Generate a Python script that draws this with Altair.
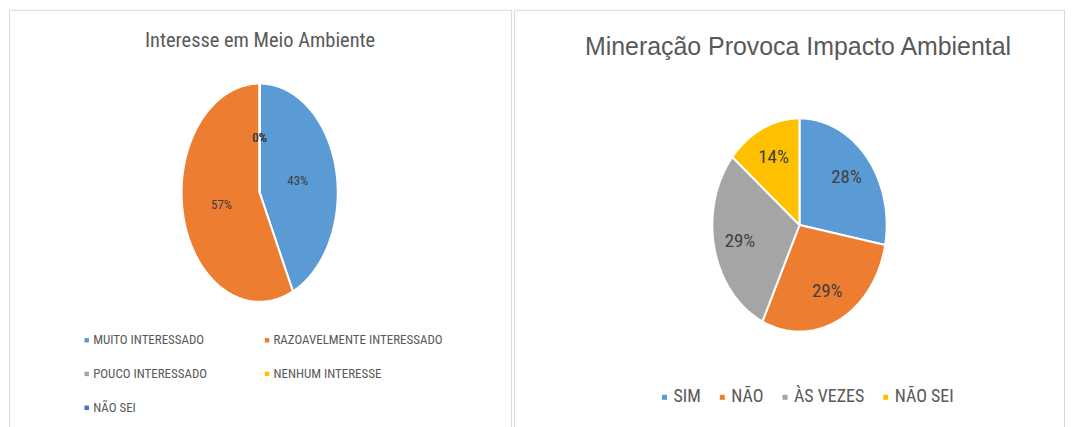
import altair as alt
import pandas as pd

# ---- data: left chart ----
cat_esq = ["MUITO INTERESSADO", "RAZOAVELMENTE INTERESSADO", "POUCO INTERESSADO",
           "NENHUM INTERESSE", "NÃO SEI"]
val_esq = [43, 57, 0, 0, 0]
cor_esq = ["#5B9BD5", "#ED7D31", "#A5A5A5", "#FFC000", "#4472C4"]
tit_esq = "Interesse em Meio Ambiente"

# ---- data: right chart ----
cat_dir = ["SIM", "NÃO", "ÀS VEZES", "NÃO SEI"]
val_dir = [28, 29, 29, 14]
cor_dir = ["#5B9BD5", "#ED7D31", "#A5A5A5", "#FFC000"]
tit_dir = "Mineração Provoca Impacto Ambiental"

NARROW = "Roboto Condensed, Liberation Sans, sans-serif"
REG = "Liberation Sans, Arial, sans-serif"
NPTS = 120


def pie(cats, vals, cores, W, H, xdom, ydom, lab_r, lab_size, title, legend):
    df = pd.DataFrame({"cat": cats, "val": vals, "ord": list(range(len(cats)))})
    base = (alt.Chart(df)
            .transform_window(cum="sum(val)", sort=[alt.SortField("ord")], frame=[None, 0])
            .transform_joinaggregate(tot="sum(val)")
            .transform_calculate(a0="(datum.cum - datum.val) / datum.tot * 2 * PI",
                                 a1="datum.cum / datum.tot * 2 * PI"))
    xs = alt.Scale(domain=xdom, nice=False, zero=False)
    ys = alt.Scale(domain=ydom, nice=False, zero=False)
    color = alt.Color("cat:N", scale=alt.Scale(domain=cats, range=cores), legend=legend)
    fatias = (base
              .transform_calculate(k=f"sequence(0, {NPTS + 3})")
              .transform_flatten(["k"])
              .transform_calculate(
                  ang=f"datum.a0 + (datum.a1 - datum.a0) * clamp((datum.k - 1) / {NPTS}, 0, 1)",
                  r=f"(datum.k == 0 || datum.k == {NPTS + 2}) ? 0 : 1")
              .transform_calculate(px="datum.r * sin(datum.ang)", py="datum.r * cos(datum.ang)")
              .mark_line(filled=True, stroke="white", strokeWidth=2, strokeJoin="miter")
              .encode(x=alt.X("px:Q", scale=xs, axis=None),
                      y=alt.Y("py:Q", scale=ys, axis=None),
                      detail="cat:N", order="k:Q", color=color))
    rotulos = (base
               .transform_calculate(mid="(datum.a0 + datum.a1) / 2")
               .transform_calculate(lx=f"{lab_r} * sin(datum.mid)",
                                    ly=f"{lab_r} * cos(datum.mid)",
                                    txt="datum.val + '%'")
               .mark_text(font=NARROW, fontSize=lab_size, color="#404040")
               .encode(x=alt.X("lx:Q", scale=xs, axis=None),
                       y=alt.Y("ly:Q", scale=ys, axis=None),
                       text="txt:N"))
    return alt.layer(fatias, rotulos).properties(width=W, height=H, title=title)


esq = pie(cat_esq, val_esq, cor_esq, 504, 419,
          [-3.21, 3.22], [-2.15, 1.676], 0.5, 13,
          alt.TitleParams(tit_esq, font=NARROW, fontSize=20.5, fontWeight="normal",
                          color="#595959", anchor="middle", baseline="alphabetic", offset=-58),
          alt.Legend(title=None, orient="none", legendX=71.5, legendY=325, columns=2,
                     direction="horizontal",
                     symbolType="square", symbolSize=20, symbolStrokeWidth=0,
                     labelFont=NARROW, labelFontSize=13, labelColor="#595959",
                     labelOffset=0, columnPadding=53, rowPadding=20, padding=0,
                     labelLimit=400))

dir_ = pie(cat_dir, val_dir, cor_dir, 552, 419,
           [-3.274, 3.034], [-1.897, 2.019], 0.7, 19,
           alt.TitleParams(tit_dir, font=REG, fontSize=25, fontWeight="normal",
                           color="#595959", anchor="middle", baseline="alphabetic",
                           offset=-70, dx=9),
           alt.Legend(title=None, orient="none", legendX=142, legendY=380,
                      direction="horizontal", symbolType="square", symbolSize=25,
                      symbolStrokeWidth=0, labelFont=NARROW, labelFontSize=18,
                      labelColor="#595959", labelOffset=0, columnPadding=12,
                      padding=0, labelLimit=400))

chart = (alt.hconcat(esq, dir_, spacing=1)
         .resolve_scale(x="independent", y="independent", color="independent")
         .resolve_legend(color="independent")
         .properties(padding=0, background="white")
         .configure_view(stroke="#d9d9d9", strokeWidth=1))

chart.save("out.html", embed_options={"renderer": "svg", "actions": False})
